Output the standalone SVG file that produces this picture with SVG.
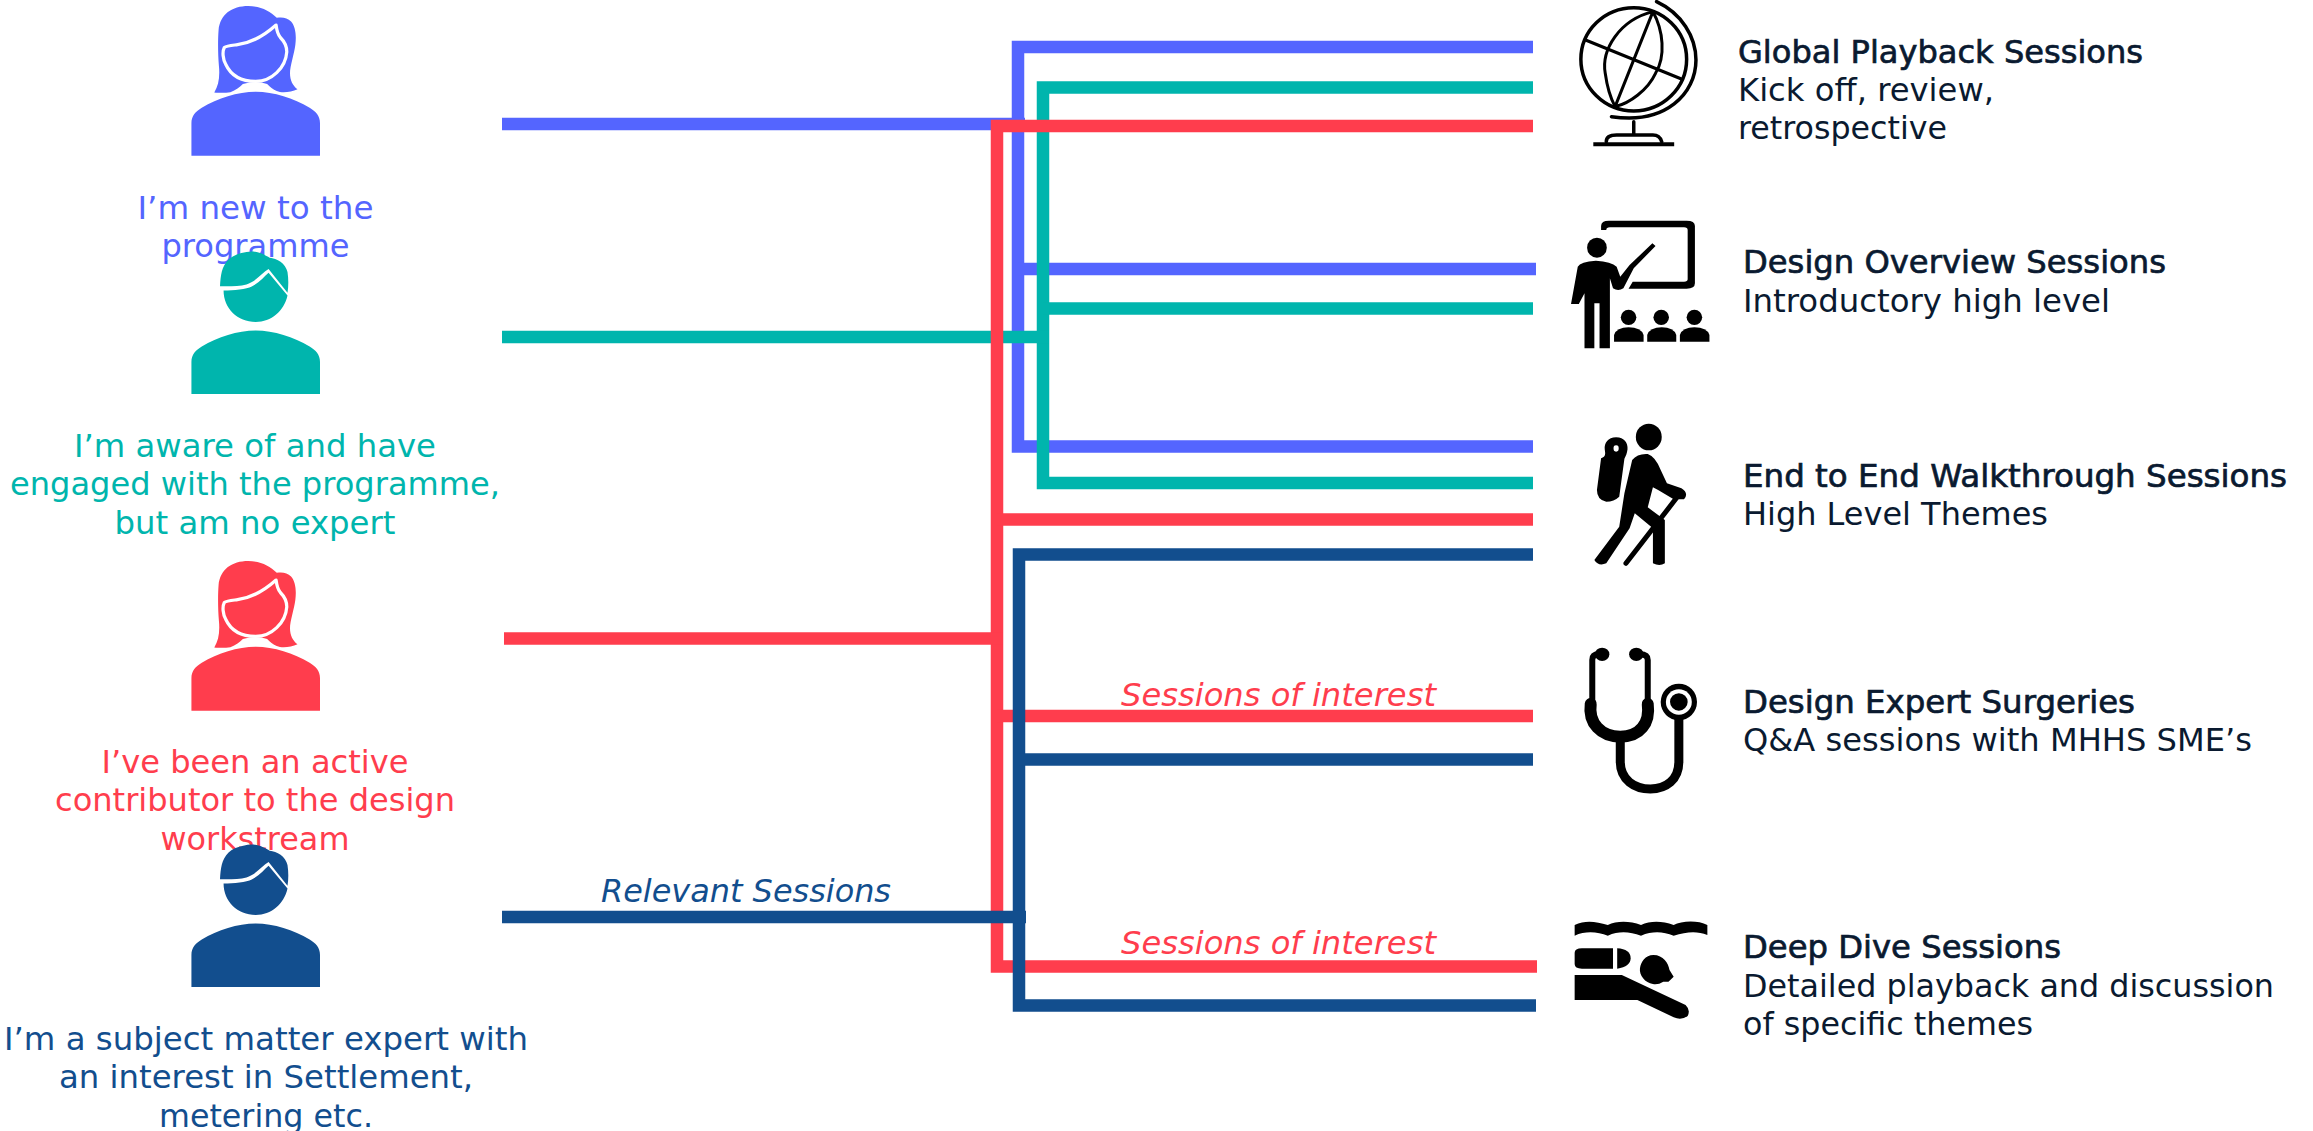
<svg xmlns="http://www.w3.org/2000/svg" xmlns:xlink="http://www.w3.org/1999/xlink" width="2313" height="1131" viewBox="0 0 2313 1131">
<style>
text{font-family:"DejaVu Sans","Liberation Sans",sans-serif;font-size:32.4px}
.c{text-anchor:middle}
.b{fill:#5465FF}.t{fill:#00B5AD}.r{fill:#FF3D4D}.n{fill:#124E8E}
.i{font-style:italic;font-size:32px}
.h{fill:#0A1A30;stroke:#0A1A30;stroke-width:.7px}
.d{fill:#0A1A30}
#connectors path{fill:none;stroke-width:12.5;stroke-linejoin:miter}
.ln{fill:none;stroke:#000;vector-effect:non-scaling-stroke;stroke-linecap:round}
.ws{fill:none;stroke:#fff;stroke-width:9;stroke-linejoin:round}
</style>
<defs>
<g id="woman" transform="scale(.35714)">
<path d="M536 436V345C536 325 548 312 565 302C610 275 665 257 716 257C767 257 822 275 867 302C884 312 896 325 896 345V436Z"/>
<path d="M600 259C612 240 616 215 613 185C610 150 610 110 612 85C616 40 650 17 695 17C730 17 755 30 775 50C790 47 805 50 815 60C828 75 830 100 827 125C824 150 812 185 812 205C812 225 820 240 833 250C815 258 790 262 775 255C765 250 755 243 748 235C738 231 725 230 716 230C705 230 692 231 680 235C672 243 660 253 645 258C630 261 612 260 600 259Z"/>
<path class="ws" d="M773 70C745 95 705 120 665 125C650 127 635 128 628 133C622 145 624 165 632 180C648 215 680 228 716 228C760 228 800 190 803 145C803 125 795 115 785 105C778 97 775 85 773 70Z"/>
</g>
<g id="man" transform="scale(.35714)">
<path d="M536 1102V1012C536 992 548 979 565 969C610 942 665 924 716 924C767 924 822 942 867 969C884 979 896 992 896 1012V1102Z"/>
<path d="M616 800C618 770 620 745 640 725C660 708 690 703 710 703C730 705 745 715 755 720C775 722 800 735 805 760C808 780 808 800 805 818L752 752C735 762 715 788 690 795C670 800 640 801 616 800Z"/>
<path d="M626 812C655 812 690 809 705 801C725 791 740 772 752 762L805 826C795 870 760 900 716 900C665 900 626 862 626 812Z"/>
</g>
</defs>

<g id="connectors">
<g style="stroke:#5465FF"><path d="M1533 47H1018V446.500H1533"/><path d="M1018 269H1536"/><path d="M502 124H1025"/></g>
<g style="stroke:#00B5AD"><path d="M1533 87.500H1043V483H1533"/><path d="M1043 308.500H1533"/><path d="M502 337H1049"/></g>
<g style="stroke:#FF3D4D"><path d="M1533 126H997V966.500H1537"/><path d="M997 519.500H1533"/><path d="M997 716H1533"/><path d="M504 638.500H1003"/></g>
<g style="stroke:#124E8E"><path d="M1533 554.500H1019V1005.500H1536"/><path d="M1019 759.500H1533"/><path d="M502 917H1026"/></g>
</g>

<g id="persona-new">
<use xlink:href="#woman" href="#woman" class="b"/>
<text class="c b" x="255.500" y="218.500" textLength="236" lengthAdjust="spacingAndGlyphs">I’m new to the</text>
<text class="c b" x="255.500" y="256.500" textLength="188" lengthAdjust="spacingAndGlyphs">programme</text>
</g>
<g id="persona-aware">
<use xlink:href="#man" href="#man" y=".5" class="t"/>
<text class="c t" x="255" y="456.500" textLength="362" lengthAdjust="spacingAndGlyphs">I’m aware of and have</text>
<text class="c t" x="255" y="495" textLength="490" lengthAdjust="spacingAndGlyphs">engaged with the programme,</text>
<text class="c t" x="255" y="533.500" textLength="281" lengthAdjust="spacingAndGlyphs">but am no expert</text>
</g>
<g id="persona-active">
<use xlink:href="#woman" href="#woman" y="555" class="r"/>
<text class="c r" x="255" y="772.500" textLength="307" lengthAdjust="spacingAndGlyphs">I’ve been an active</text>
<text class="c r" x="255" y="811" textLength="400" lengthAdjust="spacingAndGlyphs">contributor to the design</text>
<text class="c r" x="255" y="849.500" textLength="189" lengthAdjust="spacingAndGlyphs">workstream</text>
</g>
<g id="persona-expert">
<use xlink:href="#man" href="#man" y="593.500" class="n"/>
<text class="c n" x="266" y="1049.500" textLength="524" lengthAdjust="spacingAndGlyphs">I’m a subject matter expert with</text>
<text class="c n" x="266" y="1088" textLength="414" lengthAdjust="spacingAndGlyphs">an interest in Settlement,</text>
<text class="c n" x="266" y="1126.500" textLength="214" lengthAdjust="spacingAndGlyphs">metering etc.</text>
</g>

<g id="labels">
<text class="i n" x="601" y="902" textLength="290" lengthAdjust="spacingAndGlyphs">Relevant Sessions</text>
<text class="i r" x="1121" y="706" textLength="315" lengthAdjust="spacingAndGlyphs">Sessions of interest</text>
<text class="i r" x="1121" y="954" textLength="315" lengthAdjust="spacingAndGlyphs">Sessions of interest</text>
</g>

<g id="session-global">
<g transform="matrix(.5184 0 0 .3333 1500 0)">
<ellipse class="ln" cx="258" cy="178" rx="102" ry="155" stroke-width="3.500"/>
<path class="ln" stroke-width="3" d="M295 35L222 320M165 120L350 237M295 35C230 60 195 150 203 220C207 265 215 300 222 320M295 35C315 90 320 170 300 220C285 270 250 310 222 320"/>
<path class="ln" stroke-width="3.500" d="M302 5C350 40 378 110 378 180C378 280 320 375 215 350M258 365V405M205 425C205 410 215 405 225 405H295C305 405 310 415 312 425"/>
<path class="ln" stroke-width="4" style="stroke-linecap:butt" d="M180 433H336"/>
</g>
<text class="h" x="1738" y="63" textLength="405" lengthAdjust="spacingAndGlyphs">Global Playback Sessions</text>
<text class="d" x="1738" y="101" textLength="256" lengthAdjust="spacingAndGlyphs">Kick off, review,</text>
<text class="d" x="1738" y="139" textLength="209" lengthAdjust="spacingAndGlyphs">retrospective</text>
</g>

<g id="session-overview">
<g transform="matrix(.5184 0 0 .3333 1500 0)">
<path d="M195 690V678Q195 662 210 662H360Q376 662 376 678V850Q376 866 360 866H248L256 845H355Q362 845 362 838V690Q362 682 355 682H212Q205 682 205 690Z"/>
<ellipse cx="187" cy="743" rx="19" ry="30"/>
<path d="M150 800Q155 785 185 782Q215 785 225 800L232 830L250 795L294 730L300 738L258 805L238 865Q228 875 218 865L212 835V1045H192V910H182V1045H163V880L152 912H137Z"/>
<ellipse cx="248" cy="952" rx="15" ry="23"/><ellipse cx="311" cy="952" rx="15" ry="23"/><ellipse cx="375" cy="952" rx="15" ry="23"/>
<path d="M220 1025V1005Q225 982 248 982Q272 982 277 1005V1025Z"/><path d="M284 1025V1005Q289 982 312 982Q335 982 340 1005V1025Z"/><path d="M347 1025V1005Q352 982 375 982Q399 982 404 1005V1025Z"/>
</g>
<text class="h" x="1743" y="273" textLength="423" lengthAdjust="spacingAndGlyphs">Design Overview Sessions</text>
<text class="d" x="1743" y="312" textLength="367" lengthAdjust="spacingAndGlyphs">Introductory high level</text>
</g>

<g id="session-walkthrough">
<g transform="matrix(.5184 0 0 .3333 1500 400)">
<ellipse cx="287" cy="111" rx="25" ry="40"/>
<path fill-rule="evenodd" d="M224 112C240 112 247 130 246 148C245 160 243 168 240 176L230 290Q220 305 205 305Q187 300 187 270L195 175C205 170 203 160 202 148C201 130 208 112 224 112ZM224 136C220 136 219 140 219 145C219 151 220 155 224 155C228 155 229 151 229 145C229 140 228 136 224 136Z"/>
<path d="M255 180Q265 160 285 162Q300 170 310 210L322 250L350 265Q365 280 355 298L335 298L305 270L295 262L285 322L318 360V490Q308 500 295 490V385L260 340L250 385L205 490Q190 500 182 480L230 380L240 280Z"/>
<path class="ln" stroke-width="5" d="M340 295L243 490"/>
</g>
<text class="h" x="1743" y="487" textLength="544" lengthAdjust="spacingAndGlyphs">End to End Walkthrough Sessions</text>
<text class="d" x="1743" y="525" textLength="305" lengthAdjust="spacingAndGlyphs">High Level Themes</text>
</g>

<g id="session-surgeries">
<g transform="matrix(.5184 0 0 .3333 1500 400)">
<ellipse cx="197" cy="763" rx="14" ry="20"/><ellipse cx="263" cy="763" rx="14" ry="20"/>
<path class="ln" stroke-width="6" d="M190 763Q178 763 178 780V905M270 763Q285 763 285 780V905"/>
<path class="ln" stroke-width="12" d="M175 912C170 970 195 1010 232 1010C270 1010 290 970 285 912"/>
<path class="ln" stroke-width="9" d="M232 1012V1085C232 1140 260 1167 290 1167C320 1167 345 1140 345 1085V950"/>
<ellipse cx="345" cy="906" rx="35" ry="55"/><ellipse cx="345" cy="906" rx="25" ry="38" fill="#fff"/><ellipse cx="345" cy="906" rx="17" ry="26"/>
</g>
<text class="h" x="1743" y="713" textLength="392" lengthAdjust="spacingAndGlyphs">Design Expert Surgeries</text>
<text class="d" x="1743" y="751" textLength="509" lengthAdjust="spacingAndGlyphs">Q&amp;A sessions with MHHS SME’s</text>
</g>

<g id="session-deepdive">
<g transform="matrix(.5184 0 0 .3333 1500 780)">
<path d="M144 435C165 420 185 425 208 435C225 422 250 422 272 435C290 422 312 422 335 435C350 422 382 420 400 435V465C380 452 360 455 335 467C315 455 295 452 272 467C250 455 230 452 208 467C188 455 165 452 144 467Z"/>
<path d="M158 505H218V566H158Q144 566 144 552V519Q144 505 158 505Z"/>
<path d="M226 505Q252 508 252 535Q252 560 226 566Z"/>
<path d="M296 525C315 525 325 550 327 570L335 590L325 605L315 605Q305 615 295 612C280 610 268 585 270 565C272 545 280 525 296 525Z"/>
<path d="M144 585H235L358 675Q368 690 362 708Q350 722 335 712L265 660H144Z"/>
</g>
<text class="h" x="1743" y="958" textLength="318" lengthAdjust="spacingAndGlyphs">Deep Dive Sessions</text>
<text class="d" x="1743" y="997" textLength="531" lengthAdjust="spacingAndGlyphs">Detailed playback and discussion</text>
<text class="d" x="1743" y="1035" textLength="290" lengthAdjust="spacingAndGlyphs">of specific themes</text>
</g>
</svg>
